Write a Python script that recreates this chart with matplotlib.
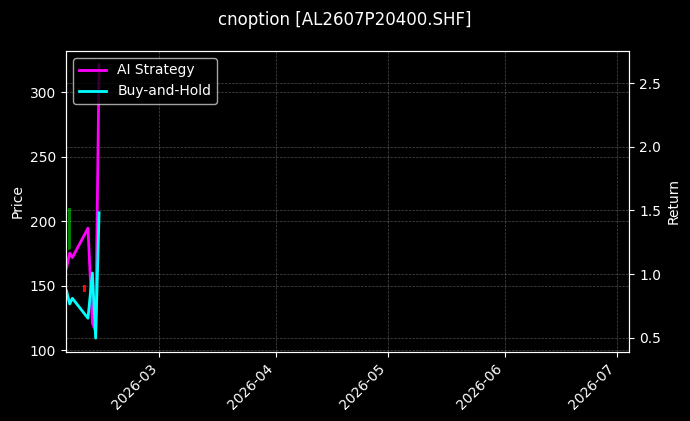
import matplotlib.pyplot as plt
import matplotlib.dates as mdates
import pandas as pd

plt.style.use('dark_background')

# candles (price axis)
candle_dates = pd.to_datetime(['2026-02-05 01:00', '2026-02-09 03:00'])
candle_open = [178, 150.4]
candle_close = [210, 145.3]
candle_high = [210.2, 150.6]
candle_low = [177.6, 145.0]

# strategy curves (return axis)
line_dates = pd.to_datetime(['2026-02-04 07:00', '2026-02-05 03:00', '2026-02-05 20:00',
                             '2026-02-10 00:00', '2026-02-11 04:00', '2026-02-12 01:00',
                             '2026-02-12 23:00'])
ai_strategy = [1.049, 1.165, 1.130, 1.361, 0.616, 0.55, 2.646]
buy_and_hold = [0.868, 0.765, 0.810, 0.653, 1.009, 0.497, 1.482]

fig = plt.figure(figsize=(6.9, 4.21), dpi=100)
ax1 = fig.add_axes([0.0957, 0.1646, 0.912 - 0.0957, 0.879 - 0.1646])
ax2 = ax1.twinx()

# candles
for d, o, c, h, l in zip(candle_dates, candle_open, candle_close, candle_high, candle_low):
    col = 'green' if c >= o else 'red'
    ax1.vlines(d, l, h, color=col, linewidth=1.2)
    ax1.bar(d, abs(c - o), bottom=min(o, c), width=0.7, color=col, linewidth=0)

ax2.plot(line_dates, ai_strategy, color='magenta', linewidth=2, label='AI Strategy')
ax2.plot(line_dates, buy_and_hold, color='cyan', linewidth=2, label='Buy-and-Hold')

ax1.set_xlim(pd.Timestamp('2026-02-04 03:36'), pd.Timestamp('2026-07-04 05:00'))
ax1.set_ylim(98.7, 332)
ax2.set_ylim(0.39, 2.754)

ax1.xaxis.set_major_locator(mdates.MonthLocator())
ax1.xaxis.set_major_formatter(mdates.DateFormatter('%Y-%m'))
plt.setp(ax1.get_xticklabels(), rotation=45, ha='right')

ax1.set_ylabel('Price')
ax2.set_ylabel('Return')
ax1.grid(True, linestyle='--', linewidth=0.5, alpha=0.3)
ax2.grid(True, linestyle='--', linewidth=0.5, alpha=0.3)

ax2.legend(loc='upper left')
fig.suptitle('cnoption [AL2607P20400.SHF]', y=0.975)

fig.savefig('out.png', dpi=100)
